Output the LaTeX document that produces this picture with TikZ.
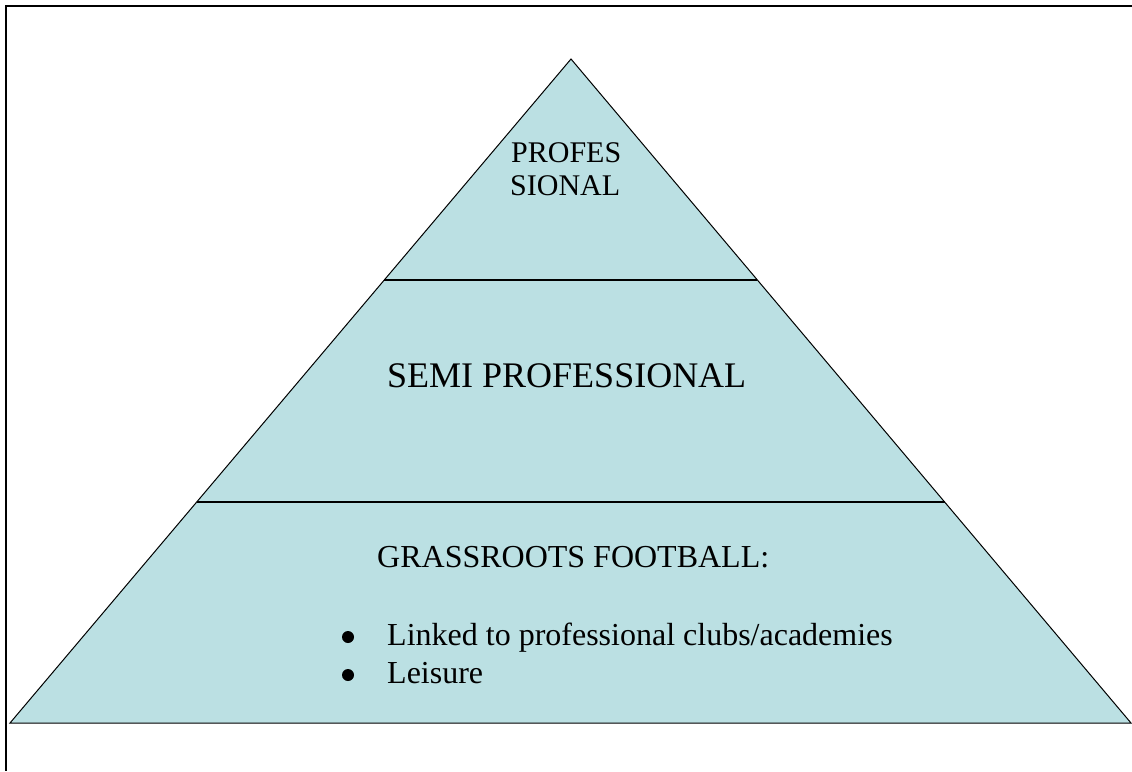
\documentclass[tikz,border=0pt]{standalone}
\usepackage{fontspec}
\setmainfont{Liberation Serif}
\usepackage{tikz}
\usetikzlibrary{calc, positioning}
\definecolor{pyrblue}{RGB}{187,224,227}

\begin{document}
\begin{tikzpicture}
  [
    x=1pt, y=-1pt,
    Level/.style={fill=pyrblue, draw=black, line width=1pt, line join=miter},
    Divider/.style={draw=black, line width=2pt},
    Frame/.style={draw=black, line width=1.5pt},
    Label/.style={anchor=base west, inner sep=0pt, font=\fontsize{32}{38}\selectfont},
    Big/.style={anchor=base west, inner sep=0pt, font=\fontsize{36}{42}\selectfont},
    Top/.style={anchor=base west, inner sep=0pt, font=\fontsize{30}{33}\selectfont},
    Dot/.style={circle, fill=black, inner sep=0pt, minimum size=12pt}
  ]
  \useasboundingbox (0,0) rectangle (1132,771);

  % Frame
  \coordinate (f1) at (1132, 6);
  \coordinate (f2) at (6, 6);
  \coordinate (f3) at (6, 771);
  \path [Frame] (f1) -- (f2) -- (f3);

  % Pyramid
  \coordinate (apex) at (571, 59);
  \coordinate (bl) at (10, 723);
  \coordinate (br) at (1131, 723);
  \path [Level] (apex) -- (br) -- (bl) -- cycle;

  \coordinate (d1l) at ($(apex)!0.333!(bl)$);
  \coordinate (d1r) at ($(apex)!0.333!(br)$);
  \coordinate (d2l) at ($(apex)!0.667!(bl)$);
  \coordinate (d2r) at ($(apex)!0.667!(br)$);
  \path [Divider] (d1l) -- (d1r);
  \path [Divider] (d2l) -- (d2r);

  % Nodes
  \node[Top] (pro) at (511, 162) {PROFES};
  \node[Top] (sional) at (510, 195) {SIONAL};

  \node[Big] (semi) at (387, 387) {SEMI PROFESSIONAL};

  \node[Label] (grass) at (377, 567) {GRASSROOTS FOOTBALL:};

  \node[Dot] (b1) at (348, 637) {};
  \node[Label] (linked) at (387, 645) {Linked to professional clubs/academies};
  \node[Dot] (b2) at (348, 675) {};
  \node[Label] (leisure) at (387, 683) {Leisure};

\end{tikzpicture}
\end{document}
